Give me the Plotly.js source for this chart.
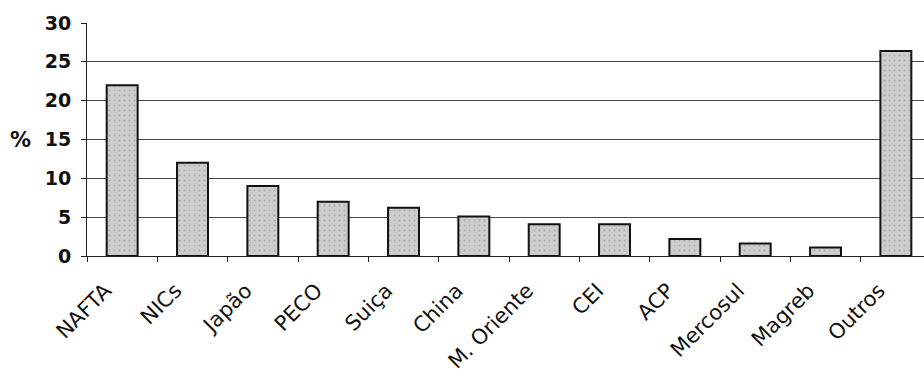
<!DOCTYPE html>
<html>
<head>
<meta charset="utf-8">
<script src="https://cdn.plot.ly/plotly-3.0.1.min.js"></script>
<style>
  html, body { margin: 0; padding: 0; background: #ffffff; }
  #chart { width: 924px; height: 377px; }
</style>
</head>
<body>
<div id="chart"></div>
<script>
// Regiões de destino (categorias) e respetiva quota, em %
const regioes = ['NAFTA', 'NICs', 'Japão', 'PECO', 'Suiça', 'China',
                 'M. Oriente', 'CEI', 'ACP', 'Mercosul', 'Magreb', 'Outros'];
const quotas = [22, 12, 9, 7, 6.2, 5.1, 4.1, 4.1, 2.2, 1.6, 1.1, 26.4];
const ticksY = [0, 5, 10, 15, 20, 25, 30];

const fonte = 'DejaVu Sans, Verdana, sans-serif';

const trace = {
  type: 'bar',
  x: regioes,
  y: quotas,
  width: 0.44,
  marker: {
    color: '#cacaca',
    line: { color: '#111111', width: 2 },
    pattern: { shape: '.', fgcolor: '#adadad', bgcolor: '#cdcdcd', size: 5, solidity: 0.12 }
  },
  hoverinfo: 'x+y'
};

const layout = {
  width: 924,
  height: 377,
  margin: { l: 87, r: 0, t: 23, b: 121 },
  paper_bgcolor: '#ffffff',
  plot_bgcolor: '#ffffff',
  showlegend: false,
  bargap: 0.56,
  xaxis: {
    type: 'category',
    range: [-0.5, 11.4],
    tickson: 'boundaries',
    ticks: 'outside',
    ticklen: 5,
    tickcolor: '#222',
    tickwidth: 1,
    tickangle: -45,
    ticklabelstandoff: 13,
    ticklabelshift: -17,
    tickfont: { family: fonte, size: 21, color: '#111' },
    showline: true,
    linecolor: '#222',
    linewidth: 1,
    showgrid: false,
    zeroline: false
  },
  yaxis: {
    range: [0, 30],
    tickvals: ticksY,
    ticktext: ticksY.map(String),
    ticks: 'outside',
    ticklen: 5,
    tickcolor: '#222',
    ticklabelstandoff: 6,
    tickfont: { family: fonte, size: 19, color: '#111', weight: 'bold' },
    showline: true,
    linecolor: '#222',
    linewidth: 1,
    showgrid: true,
    gridcolor: '#4a4a4a',
    gridwidth: 1.3,
    zeroline: false
  },
  annotations: [{
    text: '%',
    xref: 'paper', yref: 'y',
    x: 0, y: 15,
    xanchor: 'right', yanchor: 'middle',
    xshift: -54,
    showarrow: false,
    font: { family: fonte, size: 21, color: '#111', weight: 'bold' }
  }]
};

Plotly.newPlot('chart', [trace], layout, { displayModeBar: false, staticPlot: true });
</script>
</body>
</html>
